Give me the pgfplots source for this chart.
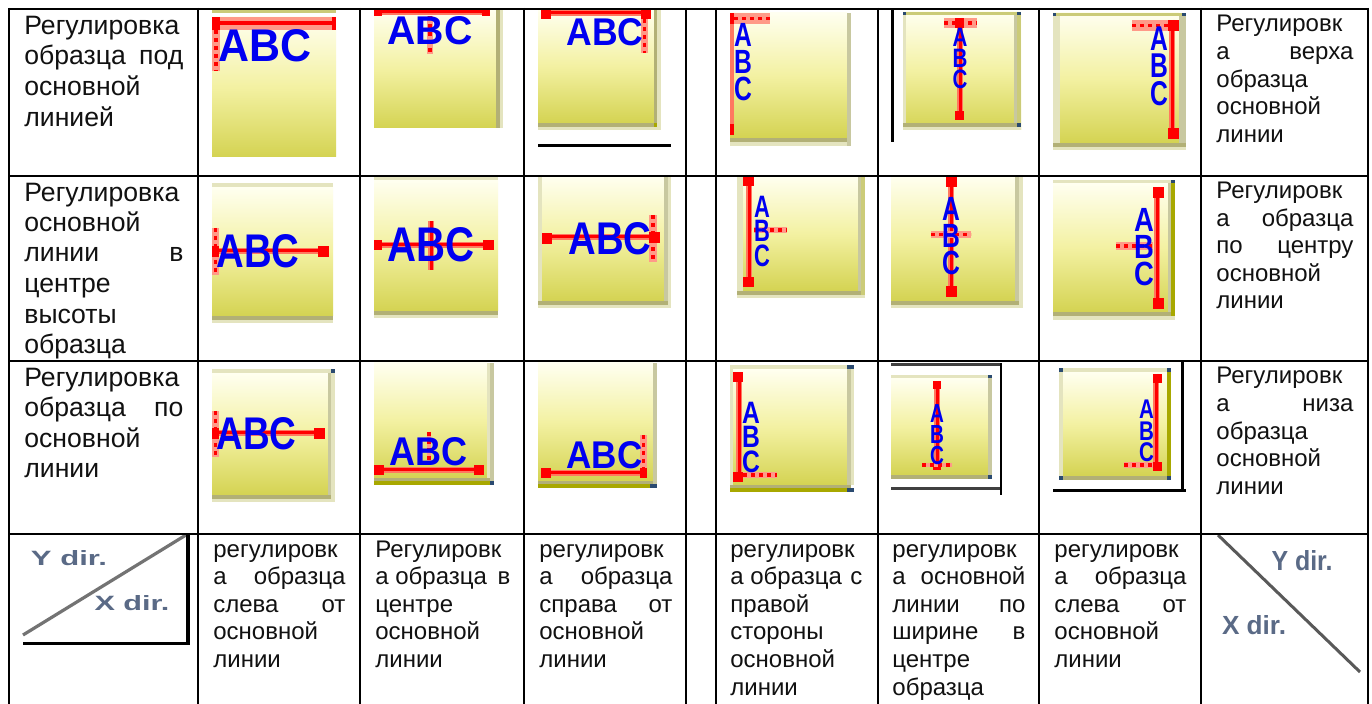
\documentclass[border=0pt]{standalone}
\usepackage{pgfplots}
\usepackage{graphicx}
\usepackage{fontspec}
\setmainfont{Liberation Sans}
\pgfplotsset{compat=1.18}
\newdimen\px \px=0.5pt
\definecolor{gt}{HTML}{FFFFF0}
\definecolor{gm}{HTML}{F3F1A2}
\definecolor{gb}{HTML}{D4D352}
\definecolor{pale}{HTML}{E4E4BF}
\definecolor{dk}{HTML}{B2B076}
\definecolor{gy}{HTML}{C8C8A0}
\definecolor{ol}{HTML}{A8A800}
\definecolor{oltop}{HTML}{CBCB78}
\definecolor{nv}{HTML}{2A4A70}
\definecolor{pr}{HTML}{FF7860}
\definecolor{rd}{HTML}{FF0000}
\definecolor{bl}{HTML}{0000F0}
\definecolor{txt}{HTML}{111111}
\definecolor{dirc}{HTML}{5A6A86}
\newcommand{\fA}{\fontsize{13.3pt}{16pt}\selectfont}
\newcommand{\fB}{\fontsize{12pt}{14pt}\selectfont}
% rect: colour x0 y0 x1 y1
\newcommand{\rect}[5]{\addplot[fill=#1,draw=none] coordinates {(#2,#3)(#4,#3)(#4,#5)(#2,#5)} --cycle;}
\newcommand{\tile}[4]{\addplot[shade,top color=gt,bottom color=gb,middle color=gm,draw=none] coordinates {(#1,#2)(#3,#2)(#3,#4)(#1,#4)} --cycle;}
% horizontal red line: x0 x1 y
\newcommand{\hred}[3]{\addplot[pr,line width=3.2pt] coordinates {(#1,#3)(#2,#3)};\addplot[rd,line width=1.5pt] coordinates {(#1,#3)(#2,#3)};}
\newcommand{\vred}[3]{\addplot[pr,line width=3.2pt] coordinates {(#3,#1)(#3,#2)};\addplot[rd,line width=1.5pt] coordinates {(#3,#1)(#3,#2)};}
% dotted strips: x0 y0 x1 y1
\newcommand{\hdt}[4]{\rect{pr!75!white}{#1}{#2}{#3}{#4}\pgfmathsetmacro{\mm}{(#2+#4)/2}\edef\tmp{\noexpand\addplot[rd,line width=1.6pt,dash pattern=on 2pt off 2pt] coordinates {(#1,\mm)(#3,\mm)};}\tmp}
\newcommand{\vdt}[4]{\rect{pr!75!white}{#1}{#2}{#3}{#4}\pgfmathsetmacro{\mm}{(#1+#3)/2}\edef\tmp{\noexpand\addplot[rd,line width=1.6pt,dash pattern=on 2pt off 2pt] coordinates {(\mm,#2)(\mm,#4)};}\tmp}
% ABC: cx cy w h
\newcommand{\abc}[4]{\node[inner sep=0pt,text=bl] at (axis cs:#1,#2) {\resizebox{#3\px}{#4\px}{\textbf{ABC}}};}
\newcommand{\stackbox}{\vbox{\offinterlineskip\hbox to 7.3pt{\hss\textbf{A}\hss}\kern1.1pt\hbox to 7.3pt{\hss\textbf{B}\hss}\kern1.1pt\hbox to 7.3pt{\hss\textbf{C}\hss}}}
\newcommand{\vabc}[4]{\node[inner sep=0pt,text=bl] at (axis cs:#1,#2) {\resizebox{#3\px}{#4\px}{\stackbox}};}
\newcommand{\Ta}[3]{\node[anchor=base west,inner sep=0pt,text=txt] at (axis cs:#1,#2) {\fA #3};}
\newcommand{\Tb}[3]{\node[anchor=base west,inner sep=0pt,text=txt] at (axis cs:#1,#2) {\fB #3};}
\newcommand{\Ja}[4]{\node[anchor=base west,inner sep=0pt,text=txt] at (axis cs:#1,#2) {\hbox to #3\px{\fA #4}};}
\newcommand{\Jb}[4]{\node[anchor=base west,inner sep=0pt,text=txt] at (axis cs:#1,#2) {\hbox to #3\px{\fB #4}};}
\newcommand{\dirt}[5]{\node[inner sep=0pt,text=dirc] at (axis cs:#2,#3) {\resizebox{#4\px}{#5\px}{\textbf{#1}}};}
\begin{document}
\begin{tikzpicture}
\begin{axis}[scale only axis,width=686pt,height=352pt,xmin=0,xmax=1372,ymin=0,ymax=704,y dir=reverse,hide axis]
\rect{white}{0}{0}{1372}{704}
% ---------- row 1
% 1-2
\rect{oltop}{212}{10}{336}{13}
\tile{212}{17}{336}{157}
\hdt{212}{17}{336}{30}
\rect{rd}{212}{21}{336}{25}
\rect{rd}{212}{17}{220}{30}\rect{rd}{332}{17}{336}{30}
\vdt{212}{30}{220}{71}
\abc{265}{46}{93}{32}
% 1-3
\tile{374}{9}{496}{128}
\rect{dk}{496}{9}{500}{128}\rect{pale}{500}{9}{503}{128}
\hred{374}{490}{12}
\rect{rd}{374}{9}{382}{16}\rect{rd}{482}{9}{490}{16}
\vdt{427}{16}{433}{54}
\abc{430}{31}{85}{28}
% 1-4
\tile{538}{9}{654}{123}
\rect{dk}{654}{9}{657}{130}\rect{pale}{657}{9}{661}{130}
\rect{dk}{538}{123}{657}{127}\rect{pale}{538}{127}{657}{130}
\rect{ol}{654}{123}{657}{127}
\hred{541}{650}{13}
\rect{rd}{541}{9}{551}{19}\rect{rd}{641}{9}{651}{19}
\vdt{641}{19}{648}{53}
\abc{605}{32.5}{77}{27}
\rect{black}{538}{144}{671}{147}
% 1-5
\tile{730}{13}{847}{138}
\rect{gy}{847}{13}{851}{146}
\rect{dk}{730}{138}{847}{142}\rect{pale}{730}{142}{847}{146}
\rect{pr}{730}{24}{734}{135}\rect{rd}{730}{124}{734}{135}
\rect{rd}{730}{13}{734}{24}
\hdt{734}{13}{770}{24}
\vabc{743}{62.5}{18}{77}
% 1-6
\rect{black}{891}{9}{894}{142}
\tile{903}{12}{1021}{130}
\rect{oltop}{903}{12}{1021}{15}
\rect{pale}{903}{15}{906}{123}
\rect{oltop}{1017}{12}{1021}{130}\rect{gy}{1014}{15}{1017}{123}
\rect{dk}{903}{123}{1021}{127}\rect{pale}{903}{127}{1021}{130}
\rect{nv}{903}{12}{906}{15}\rect{nv}{1017}{12}{1021}{15}\rect{nv}{1017}{123}{1021}{127}
\vred{18}{120}{960}
\rect{rd}{955}{111}{964}{120}
\hdt{944}{18}{977}{28}
\rect{rd}{955}{18}{964}{28}
\vabc{960}{58.5}{15}{61}
% 1-7
\tile{1053}{13}{1179}{143}
\rect{oltop}{1053}{13}{1186}{16}
\rect{pale}{1053}{16}{1060}{143}
\rect{gy}{1179}{16}{1186}{143}
\rect{dk}{1053}{143}{1186}{147}\rect{pale}{1053}{147}{1186}{150}
\rect{nv}{1053}{13}{1056}{16}\rect{nv}{1182}{13}{1186}{16}
\vred{20}{139}{1172}
\hdt{1132}{20}{1168}{31}
\rect{rd}{1168}{20}{1179}{31}\rect{rd}{1168}{128}{1179}{139}
\vabc{1159}{66.5}{18}{79}
% ---------- row 2
% 2-2
\tile{212}{187}{333}{316}
\rect{pale}{212}{183}{333}{187}
\rect{dk}{212}{316}{333}{320}\rect{pale}{212}{320}{333}{323}
\hred{212}{329}{251}
\rect{rd}{318}{246}{329}{257}
\vdt{212}{228}{219}{275}
\rect{rd}{212}{246}{219}{257}
\abc{258}{251.5}{83}{33}
% 2-3
\tile{374}{180}{498}{311}
\rect{pale}{374}{176}{498}{180}
\rect{dk}{374}{311}{498}{315}\rect{pale}{374}{315}{498}{318}
\hred{374}{494}{245}
\rect{rd}{374}{240}{382}{250}\rect{rd}{483}{240}{494}{250}
\vred{221}{270}{431}
\abc{431}{245}{87}{34}
% 2-4
\tile{542}{176}{664}{301}
\rect{pale}{538}{176}{542}{305}
\rect{gy}{664}{176}{668}{305}\rect{pale}{668}{176}{671}{305}
\rect{dk}{538}{301}{668}{305}\rect{pale}{538}{305}{671}{308}
\hred{542}{652}{237}
\rect{rd}{542}{233}{552}{244}
\vdt{649}{215}{657}{262}
\rect{rd}{649}{232}{660}{243}
\abc{610}{239}{83}{32}
% 2-5
\tile{743}{176}{858}{291}
\rect{pale}{737}{176}{743}{295}
\rect{gy}{858}{176}{861}{295}\rect{oltop}{861}{176}{865}{295}
\rect{dk}{737}{291}{861}{295}\rect{pale}{737}{295}{865}{298}
\vred{176}{287}{749}
\rect{rd}{743}{176}{754}{186}\rect{rd}{743}{277}{754}{287}
\hdt{754}{227}{787}{233}
\vabc{762}{231.5}{16}{71}
% 2-6
\tile{891}{176}{1015}{301}
\rect{gy}{1015}{176}{1019}{305}\rect{pale}{1019}{176}{1023}{305}
\rect{dk}{891}{301}{1019}{305}\rect{pale}{891}{305}{1023}{308}
\vred{176}{297}{951}
\rect{rd}{946}{176}{957}{187}\rect{rd}{946}{286}{957}{297}
\hdt{931}{231}{971}{238}
\vabc{951}{236.5}{18}{77}
% 2-7
\tile{1053}{183}{1168}{312}
\rect{pale}{1053}{180}{1175}{183}
\rect{gy}{1168}{183}{1171}{316}\rect{ol}{1171}{183}{1175}{316}
\rect{dk}{1053}{312}{1171}{316}\rect{pale}{1053}{316}{1175}{320}
\rect{nv}{1171}{180}{1175}{183}
\vred{187}{309}{1157}
\rect{rd}{1153}{187}{1164}{198}\rect{rd}{1153}{298}{1164}{309}
\hdt{1116}{242}{1153}{250}
\vabc{1144}{247.5}{20}{77}
% ---------- row 3
% 3-2
\tile{212}{373}{328}{495}
\rect{pale}{212}{369}{335}{373}
\rect{gy}{328}{373}{331}{499}\rect{pale}{331}{373}{335}{499}
\rect{dk}{212}{495}{331}{499}\rect{pale}{212}{499}{335}{502}
\rect{nv}{331}{369}{335}{373}
\hred{212}{325}{433}
\rect{rd}{314}{428}{325}{439}
\vdt{212}{411}{219}{457}
\rect{rd}{212}{428}{219}{439}
\abc{256.5}{434}{80}{32}
% 3-3
\tile{374}{363}{487}{478}
\rect{pale}{487}{363}{490}{485}\rect{gy}{490}{363}{494}{485}
\rect{dk}{374}{478}{490}{481}\rect{ol}{374}{481}{490}{485}
\rect{nv}{490}{481}{494}{485}
\hred{374}{484}{470}
\rect{rd}{374}{465}{384}{475}\rect{rd}{474}{465}{484}{475}
\vdt{427}{432}{431}{465}
\abc{428.5}{452}{78}{28}
% 3-4
\tile{538}{363}{653}{481}
\rect{gy}{653}{363}{657}{484}
\rect{dk}{538}{481}{653}{484}\rect{ol}{538}{484}{653}{488}
\rect{nv}{650}{484}{657}{488}
\hred{541}{647}{473}
\rect{rd}{541}{468}{551}{478}\rect{rd}{640}{468}{647}{478}
\vdt{640}{435}{647}{468}
\abc{604.5}{455.5}{76}{27}
% 3-5
\tile{733}{369}{847}{485}
\rect{pale}{730}{365}{854}{369}\rect{pale}{730}{369}{733}{485}
\rect{gy}{847}{369}{851}{485}\rect{pale}{851}{369}{854}{485}
\rect{dk}{730}{485}{851}{488}\rect{ol}{730}{488}{854}{492}
\rect{nv}{847}{365}{854}{369}\rect{nv}{847}{488}{854}{492}
\vred{372}{482}{739}
\rect{rd}{733}{372}{743}{382}
\hdt{743}{472}{777}{478}
\rect{rd}{733}{472}{743}{482}
\vabc{751}{437.5}{18}{71}
% 3-6
\tile{891}{378}{988}{475}
\rect{pale}{891}{375}{992}{378}
\rect{gy}{988}{375}{992}{479}
\rect{dk}{891}{475}{992}{479}
\rect{nv}{988}{375}{992}{378}\rect{nv}{988}{475}{992}{479}
\rect{black!75}{891}{363}{1001}{366}
\rect{black!75}{891}{487}{1001}{490}
\rect{black}{1000}{363}{1002}{495}
\vred{381}{470}{937}
\rect{rd}{933}{381}{941}{389}\rect{rd}{933}{462}{941}{470}
\hdt{922}{463}{952}{467}
\vabc{937}{435}{14}{60}
% 3-7
\tile{1063}{372}{1167}{476}
\rect{pale}{1059}{368}{1171}{372}\rect{pale}{1059}{372}{1063}{476}
\rect{ol}{1167}{372}{1171}{476}
\rect{dk}{1059}{476}{1171}{480}
\rect{nv}{1059}{368}{1063}{372}\rect{nv}{1167}{368}{1171}{372}\rect{nv}{1059}{476}{1063}{480}\rect{nv}{1167}{476}{1171}{480}
\vred{374}{471}{1156}
\rect{rd}{1153}{374}{1162}{383}\rect{rd}{1153}{462}{1162}{471}
\hdt{1124}{462}{1153}{468}
\vabc{1146.5}{431}{15}{62}
\rect{black}{1181}{361}{1184}{491}
\rect{black}{1053}{489}{1186}{492}
% ---------- row 4 corners
\addplot[black!55,line width=1.6pt] coordinates {(23,635)(186,535)};
\rect{black}{23}{642}{190}{645}
\rect{black}{186}{535}{190}{645}
\dirt{Y dir.}{69}{558}{76}{15}
\dirt{X dir.}{132}{603}{75}{15}
\addplot[black!65,line width=1.5pt] coordinates {(1218,535)(1360,672)};
\dirt{Y dir.}{1302}{561}{61}{20}
\dirt{X dir.}{1254}{625}{64}{19}
% ---------- grid
\addplot[black,line width=1pt] coordinates {(9,9)(1369,9)};
\addplot[black,line width=1pt] coordinates {(9,176)(1369,176)};
\addplot[black,line width=1pt] coordinates {(9,361.5)(1369,361.5)};
\addplot[black,line width=1pt] coordinates {(9,534)(1369,534)};
\addplot[black,line width=1pt] coordinates {(9,8)(9,704)};
\addplot[black,line width=1pt] coordinates {(198,8)(198,704)};
\addplot[black,line width=1pt] coordinates {(360,8)(360,704)};
\addplot[black,line width=1pt] coordinates {(524,8)(524,704)};
\addplot[black,line width=1pt] coordinates {(686,8)(686,704)};
\addplot[black,line width=1pt] coordinates {(716,8)(716,704)};
\addplot[black,line width=1pt] coordinates {(878,8)(878,704)};
\addplot[black,line width=1pt] coordinates {(1039,8)(1039,704)};
\addplot[black,line width=1pt] coordinates {(1201,8)(1201,704)};
\addplot[black,line width=1pt] coordinates {(1368,8)(1368,704)};
% ---------- text col 1
\Ta{24}{35}{Регулировка}
\Ja{24}{65}{159}{образца\hfill под}
\Ta{24}{96}{основной}
\Ta{24}{127}{линией}
\Ta{24}{202}{Регулировка}
\Ta{24}{232}{основной}
\Ja{24}{262}{159}{линии\hfill в}
\Ta{24}{293}{центре}
\Ta{24}{324}{высоты}
\Ta{24}{354}{образца}
\Ta{24}{387}{Регулировка}
\Ja{24}{417}{159}{образца\hfill по}
\Ta{24}{448}{основной}
\Ta{24}{478}{линии}
% ---------- text right col
\Tb{1216}{32}{Регулировк}
\Jb{1216}{60}{137}{а\hfill верха}
\Tb{1216}{88}{образца}
\Tb{1216}{115}{основной}
\Tb{1216}{143}{линии}
\Tb{1216}{199}{Регулировк}
\Jb{1216}{227}{137}{а\hfill образца}
\Jb{1216}{254}{137}{по\hfill центру}
\Tb{1216}{282}{основной}
\Tb{1216}{309}{линии}
\Tb{1216}{384}{Регулировк}
\Jb{1216}{412}{137}{а\hfill низа}
\Tb{1216}{440}{образца}
\Tb{1216}{467}{основной}
\Tb{1216}{495}{линии}
% ---------- bottom row
\Tb{213}{558}{регулировк}
\Jb{213}{585}{132}{а\hfill образца}
\Jb{213}{613}{132}{слева\hfill от}
\Tb{213}{640}{основной}
\Tb{213}{668}{линии}
\Tb{375}{558}{Регулировк}
\Jb{375}{585}{135}{а образца\hfill в}
\Tb{375}{613}{центре}
\Tb{375}{640}{основной}
\Tb{375}{668}{линии}
\Tb{539}{558}{регулировк}
\Jb{539}{585}{133}{а\hfill образца}
\Jb{539}{613}{133}{справа\hfill от}
\Tb{539}{640}{основной}
\Tb{539}{668}{линии}
\Tb{730}{558}{регулировк}
\Jb{730}{585}{132}{а образца\hfill с}
\Tb{730}{613}{правой}
\Tb{730}{640}{стороны}
\Tb{730}{668}{основной}
\Tb{730}{696}{линии}
\Tb{892}{558}{регулировк}
\Jb{892}{585}{133}{а\hfill основной}
\Jb{892}{613}{133}{линии\hfill по}
\Jb{892}{640}{133}{ширине\hfill в}
\Tb{892}{668}{центре}
\Tb{892}{696}{образца}
\Tb{1054}{558}{регулировк}
\Jb{1054}{585}{132}{а\hfill образца}
\Jb{1054}{613}{132}{слева\hfill от}
\Tb{1054}{640}{основной}
\Tb{1054}{668}{линии}
\end{axis}
\end{tikzpicture}
\end{document}
